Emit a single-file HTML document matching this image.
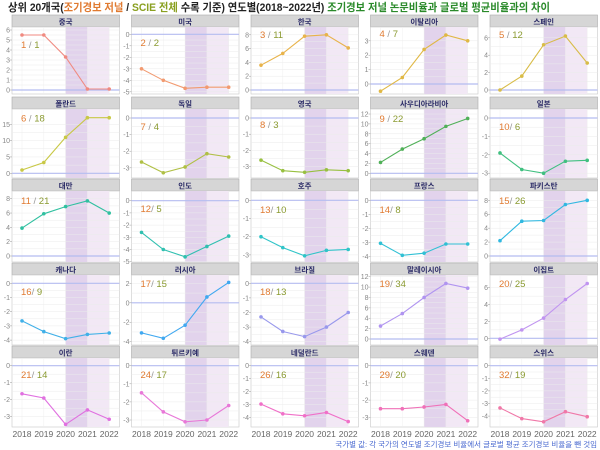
<!DOCTYPE html>
<html><head><meta charset="utf-8"><style>
html,body{margin:0;padding:0;background:#fff;}
svg{display:block;font-family:"Liberation Sans","Noto Sans CJK KR",sans-serif;}
.t{font-size:7px;fill:#888;text-anchor:end}
.s{font-size:7.5px;font-weight:bold;fill:#2a2a66;text-anchor:middle}
.r{font-size:9.5px}
.o{fill:#e07a30}.g{fill:#8a9a30}
.yr{font-size:8.5px;fill:#666;text-anchor:middle}
</style></head><body>
<svg id="c" width="600" height="450" viewBox="0 0 600 450" xmlns="http://www.w3.org/2000/svg">
<g id="shapes"></g>
<text x="8" y="11" font-size="11" font-weight="bold" fill="#222" textLength="542" lengthAdjust="spacingAndGlyphs">상위 20개국(<tspan fill="#e07a30">조기경보 저널</tspan> / <tspan fill="#8aa020">SCIE 전체</tspan> 수록 기준) 연도별(2018~2022년) <tspan fill="#2a8a2a">조기경보 저널 논문비율과 글로벌 평균비율과의 차이</tspan></text>
<g class="s">
<text x="65.7" y="24.5">중국</text><text x="185.2" y="24.5">미국</text><text x="304.7" y="24.5">한국</text><text x="424.2" y="24.5">이탈리아</text><text x="543.7" y="24.5">스페인</text>
<text x="65.7" y="106.5">폴란드</text><text x="185.2" y="106.5">독일</text><text x="304.7" y="106.5">영국</text><text x="424.2" y="106.5">사우디아라비아</text><text x="543.7" y="106.5">일본</text>
<text x="65.7" y="188.5">대만</text><text x="185.2" y="188.5">인도</text><text x="304.7" y="188.5">호주</text><text x="424.2" y="188.5">프랑스</text><text x="543.7" y="188.5">파키스탄</text>
<text x="65.7" y="272.5">캐나다</text><text x="185.2" y="272.5">러시아</text><text x="304.7" y="272.5">브라질</text><text x="424.2" y="272.5">말레이시아</text><text x="543.7" y="272.5">이집트</text>
<text x="65.7" y="355.5">이란</text><text x="185.2" y="355.5">튀르키예</text><text x="304.7" y="355.5">네덜란드</text><text x="424.2" y="355.5">스웨덴</text><text x="543.7" y="355.5">스위스</text>
</g>
<g class="r">
<text x="21" y="48"><tspan class="o">1</tspan><tspan fill="#999"> / </tspan><tspan class="g">1</tspan></text>
<text x="140.5" y="46"><tspan class="o">2</tspan><tspan fill="#999"> / </tspan><tspan class="g">2</tspan></text>
<text x="260" y="38"><tspan class="o">3</tspan><tspan fill="#999"> / </tspan><tspan class="g">11</tspan></text>
<text x="379.5" y="37"><tspan class="o">4</tspan><tspan fill="#999"> / </tspan><tspan class="g">7</tspan></text>
<text x="499" y="38"><tspan class="o">5</tspan><tspan fill="#999"> / </tspan><tspan class="g">12</tspan></text>
<text x="21" y="121.5"><tspan class="o">6</tspan><tspan fill="#999"> / </tspan><tspan class="g">18</tspan></text>
<text x="140.5" y="130"><tspan class="o">7</tspan><tspan fill="#999"> / </tspan><tspan class="g">4</tspan></text>
<text x="260" y="128"><tspan class="o">8</tspan><tspan fill="#999"> / </tspan><tspan class="g">3</tspan></text>
<text x="379.5" y="122"><tspan class="o">9</tspan><tspan fill="#999"> / </tspan><tspan class="g">22</tspan></text>
<text x="499" y="130"><tspan class="o">10</tspan><tspan fill="#999">/ </tspan><tspan class="g">6</tspan></text>
<text x="21" y="204"><tspan class="o">11</tspan><tspan fill="#999"> / </tspan><tspan class="g">21</tspan></text>
<text x="140.5" y="212"><tspan class="o">12</tspan><tspan fill="#999">/ </tspan><tspan class="g">5</tspan></text>
<text x="260" y="213"><tspan class="o">13</tspan><tspan fill="#999">/ </tspan><tspan class="g">10</tspan></text>
<text x="379.5" y="213"><tspan class="o">14</tspan><tspan fill="#999">/ </tspan><tspan class="g">8</tspan></text>
<text x="499" y="204"><tspan class="o">15</tspan><tspan fill="#999">/ </tspan><tspan class="g">26</tspan></text>
<text x="21" y="295"><tspan class="o">16</tspan><tspan fill="#999">/ </tspan><tspan class="g">9</tspan></text>
<text x="140.5" y="287"><tspan class="o">17</tspan><tspan fill="#999">/ </tspan><tspan class="g">15</tspan></text>
<text x="260" y="295"><tspan class="o">18</tspan><tspan fill="#999">/ </tspan><tspan class="g">13</tspan></text>
<text x="379.5" y="287"><tspan class="o">19</tspan><tspan fill="#999">/ </tspan><tspan class="g">34</tspan></text>
<text x="499" y="287"><tspan class="o">20</tspan><tspan fill="#999">/ </tspan><tspan class="g">25</tspan></text>
<text x="21" y="378"><tspan class="o">21</tspan><tspan fill="#999">/ </tspan><tspan class="g">14</tspan></text>
<text x="140.5" y="378"><tspan class="o">24</tspan><tspan fill="#999">/ </tspan><tspan class="g">17</tspan></text>
<text x="260" y="378"><tspan class="o">26</tspan><tspan fill="#999">/ </tspan><tspan class="g">16</tspan></text>
<text x="379.5" y="378"><tspan class="o">29</tspan><tspan fill="#999">/ </tspan><tspan class="g">20</tspan></text>
<text x="499" y="378"><tspan class="o">32</tspan><tspan fill="#999">/ </tspan><tspan class="g">19</tspan></text>
</g>
<g class="t">
<text x="10" y="92.5">0</text><text x="10" y="82.5">1</text><text x="10" y="72.5">2</text><text x="10" y="62.5">3</text><text x="10" y="52.5">4</text><text x="10" y="42.5">5</text><text x="10" y="32.5">6</text>
<text x="129.5" y="36.8">0</text><text x="129.5" y="48.3">-1</text><text x="129.5" y="59.8">-2</text><text x="129.5" y="71.3">-3</text><text x="129.5" y="82.8">-4</text><text x="129.5" y="94.3">-5</text>
<text x="249" y="92.5">0</text><text x="249" y="78.7">2</text><text x="249" y="64.9">4</text><text x="249" y="51.1">6</text><text x="249" y="37.3">8</text>
<text x="368.5" y="86.5">0</text><text x="368.5" y="72.1">1</text><text x="368.5" y="57.7">2</text><text x="368.5" y="43.3">3</text>
<text x="488" y="92.5">0</text><text x="488" y="75.1">2</text><text x="488" y="57.7">4</text><text x="488" y="40.3">6</text>
<text x="10" y="175.8">0</text><text x="10" y="159.5">5</text><text x="10" y="143.1">10</text><text x="10" y="126.8">15</text>
<text x="129.5" y="120.5">0</text><text x="129.5" y="137.1">-1</text><text x="129.5" y="153.7">-2</text><text x="129.5" y="170.3">-3</text>
<text x="249" y="120.5">0</text><text x="249" y="136.7">-1</text><text x="249" y="152.9">-2</text><text x="249" y="169.1">-3</text>
<text x="368.5" y="175.8">0</text><text x="368.5" y="165.9">2</text><text x="368.5" y="156">4</text><text x="368.5" y="146.2">6</text><text x="368.5" y="136.3">8</text><text x="368.5" y="126.4">10</text><text x="368.5" y="116.5">12</text>
<text x="488" y="120.5">0</text><text x="488" y="138.9">-1</text><text x="488" y="157.3">-2</text><text x="488" y="175.7">-3</text>
<text x="10" y="258.5">0</text><text x="10" y="244.2">2</text><text x="10" y="229.9">4</text><text x="10" y="215.5">6</text><text x="10" y="201.2">8</text>
<text x="129.5" y="203.2">0</text><text x="129.5" y="215.4">-1</text><text x="129.5" y="227.6">-2</text><text x="129.5" y="239.8">-3</text><text x="129.5" y="252">-4</text><text x="129.5" y="264.2">-5</text>
<text x="249" y="202.8">0</text><text x="249" y="221">-1</text><text x="249" y="239.2">-2</text><text x="249" y="257.4">-3</text>
<text x="368.5" y="202.8">0</text><text x="368.5" y="216.9">-1</text><text x="368.5" y="231">-2</text><text x="368.5" y="245.1">-3</text><text x="368.5" y="259.2">-4</text>
<text x="488" y="258.5">0</text><text x="488" y="244.6">2</text><text x="488" y="230.7">4</text><text x="488" y="216.7">6</text><text x="488" y="202.8">8</text>
<text x="10" y="285.8">0</text><text x="10" y="300">-1</text><text x="10" y="314.2">-2</text><text x="10" y="328.4">-3</text><text x="10" y="342.6">-4</text>
<text x="129.5" y="344.2">-4</text><text x="129.5" y="324.7">-2</text><text x="129.5" y="305.3">0</text><text x="129.5" y="285.9">2</text>
<text x="249" y="285.8">0</text><text x="249" y="300.4">-1</text><text x="249" y="315">-2</text><text x="249" y="329.6">-3</text><text x="249" y="344.2">-4</text>
<text x="368.5" y="341.5">0</text><text x="368.5" y="331.1">2</text><text x="368.5" y="320.7">4</text><text x="368.5" y="310.4">6</text><text x="368.5" y="300">8</text><text x="368.5" y="289.6">10</text><text x="368.5" y="279.2">12</text>
<text x="488" y="340.8">0</text><text x="488" y="323.9">2</text><text x="488" y="307.1">4</text><text x="488" y="290.2">6</text>
<text x="10" y="368.2">0</text><text x="10" y="385.2">-1</text><text x="10" y="402.2">-2</text><text x="10" y="419.2">-3</text>
<text x="129.5" y="368.2">0</text><text x="129.5" y="386.3">-1</text><text x="129.5" y="404.4">-2</text><text x="129.5" y="422.5">-3</text>
<text x="249" y="368.2">0</text><text x="249" y="381.2">-1</text><text x="249" y="394.2">-2</text><text x="249" y="407.2">-3</text><text x="249" y="420.2">-4</text>
<text x="368.5" y="368.2">0</text><text x="368.5" y="385.4">-1</text><text x="368.5" y="402.6">-2</text><text x="368.5" y="419.8">-3</text>
<text x="488" y="368.2">0</text><text x="488" y="380.8">-1</text><text x="488" y="393.4">-2</text><text x="488" y="406">-3</text><text x="488" y="418.6">-4</text>
</g>
<g class="yr">
<text x="22" y="437">2018</text><text x="43.8" y="437">2019</text><text x="65.6" y="437">2020</text><text x="87.4" y="437">2021</text><text x="109.2" y="437">2022</text>
<text x="141.5" y="437">2018</text><text x="163.3" y="437">2019</text><text x="185.1" y="437">2020</text><text x="206.9" y="437">2021</text><text x="228.7" y="437">2022</text>
<text x="261" y="437">2018</text><text x="282.8" y="437">2019</text><text x="304.6" y="437">2020</text><text x="326.4" y="437">2021</text><text x="348.2" y="437">2022</text>
<text x="380.5" y="437">2018</text><text x="402.3" y="437">2019</text><text x="424.1" y="437">2020</text><text x="445.9" y="437">2021</text><text x="467.7" y="437">2022</text>
<text x="500" y="437">2018</text><text x="521.8" y="437">2019</text><text x="543.6" y="437">2020</text><text x="565.4" y="437">2021</text><text x="587.2" y="437">2022</text>
</g>
<text x="597" y="447" font-size="7.5" fill="#4a6ad0" text-anchor="end">국가별 값: 각 국가의 연도별 조기경보 비율에서 글로벌 평균 조기경보 비율을 뺀 것임</text>
</svg>
<script>
(function(){
var NS="http://www.w3.org/2000/svg",g=document.getElementById("shapes");
function el(n,a){var e=document.createElementNS(NS,n);for(var k in a)e.setAttribute(k,a[k]);g.appendChild(e);return e;}
var L=[12,131.5,251,370.5,490],W=107.5,T=[27,109,191,275,358],B=[94,178,262,345,427];
var P=[
[90,10,0,6,1,[5.5,5.5,3.3,0.1,0.1],"#f08a80"],
[34.3,11.5,-5,0,1,[-3,-4,-4.7,-4.6,-4.6],"#f29a70"],
[90,6.9,0,8,2,[3.6,5.3,7.8,8,6.1],"#e8b34a"],
[84,14.4,0,3,1,[-0.5,0.45,2.4,3.4,3.0],"#e0b845"],
[90,8.7,0,6,2,[0,1.6,5.2,6.2,3.1],"#d8bc48"],
[173.3,3.27,0,15,5,[1,3.3,11,17,17],"#c8c845"],
[118,16.6,-3,0,1,[-2.65,-3.3,-2.95,-2.15,-2.35],"#b0c045"],
[118,16.2,-3,0,1,[-2.6,-3.25,-3.35,-3.2,-3.25],"#98c040"],
[173.3,4.94,0,12,2,[2.2,4.9,7,9.5,11.1],"#50b058"],
[118,18.4,-3,0,1,[-1.9,-2.8,-3.0,-2.35,-2.3],"#40c080"],
[256,7.16,0,8,2,[3.9,5.9,6.9,7.7,6.0],"#30c0a0"],
[200.7,12.2,-5,0,1,[-2.6,-4,-4.6,-3.75,-2.9],"#30c0b0"],
[200.3,18.2,-3,0,1,[-2,-2.6,-3.05,-2.75,-2.7],"#30c4c8"],
[200.3,14.1,-4,0,1,[-3.05,-3.9,-3.75,-3.1,-3.1],"#30c0d4"],
[256,6.96,0,8,2,[2.2,5,5.1,7.4,8],"#30b8e0"],
[283.3,14.2,-4,0,1,[-2.65,-3.4,-3.9,-3.6,-3.5],"#40b0e8"],
[302.8,9.72,-4,2,2,[-3.1,-3.65,-2.3,0.6,2.1],"#40a8f0"],
[283.3,14.6,-4,0,1,[-2.3,-3.3,-3.65,-3.0,-2.0],"#9898ec"],
[339,5.19,0,12,2,[2.5,4.9,8.0,10.7,9.8],"#b094f0"],
[338.3,8.43,0,6,2,[-0.1,1,2.4,4.6,6.5],"#c094f0"],
[365.7,17,-3,0,1,[-1.65,-1.9,-3.45,-2.6,-3.15],"#e070e0"],
[365.7,18.1,-3,0,1,[-1.5,-2.55,-3.1,-3.0,-2.2],"#e878d8"],
[365.7,13,-4,0,1,[-2.95,-3.7,-3.85,-3.6,-4.3],"#f070c8"],
[365.7,17.2,-3,0,1,[-2.5,-2.5,-2.4,-2.25,-3.2],"#f070b8"],
[365.7,12.6,-4,0,1,[-3.35,-4.2,-4.45,-3.65,-4.05],"#f078a8"]];
for(var i=0;i<25;i++){
 var r=Math.floor(i/5),c=i%5,x=L[c],t=T[r],b=B[r],p=P[i];
 var X=function(k){return x+10+k*21.8;};
 el("rect",{x:x,y:t-12,width:W,height:12,fill:"#d6d6d6",stroke:"#aaa","stroke-width":0.6});
 el("rect",{x:x,y:t,width:W,height:b-t,fill:"#fff",stroke:"#c8c8c8","stroke-width":0.6});
 el("rect",{x:X(2),y:t,width:21.8,height:b-t,fill:"#e2d3ec"});
 el("rect",{x:X(3),y:t,width:21.8,height:b-t,fill:"#f2e8f5"});
 for(var k=0;k<5;k++){el("line",{x1:X(k),x2:X(k),y1:t,y2:b,stroke:"#ebebeb","stroke-width":0.5,"stroke-opacity":0.8});}
 for(var v=p[2];v<=p[3]+1e-6;v+=p[4]/2){var yy=p[0]-v*p[1];if(yy>t&&yy<b)el("line",{x1:x,x2:x+W,y1:yy,y2:yy,stroke:"#ebebeb","stroke-width":0.5});
  var tv=Math.round(v*100)/100; if(Math.abs(tv/p[4]-Math.round(tv/p[4]))<1e-6) el("line",{x1:x-2,x2:x,y1:yy,y2:yy,stroke:"#999","stroke-width":0.5});}
 var z=p[0];if(z>=t&&z<=b)el("line",{x1:x,x2:x+W,y1:z,y2:z,stroke:"#b4bcf0","stroke-width":1.2});
 var pts=p[5].map(function(v,k){return X(k)+","+(p[0]-v*p[1]).toFixed(1);});
 el("polyline",{points:pts.join(" "),fill:"none",stroke:p[6],"stroke-width":1.1});
 p[5].forEach(function(v,k){el("circle",{cx:X(k),cy:(p[0]-v*p[1]),r:1.8,fill:p[6]});});
}
})();
</script>
</body></html>
